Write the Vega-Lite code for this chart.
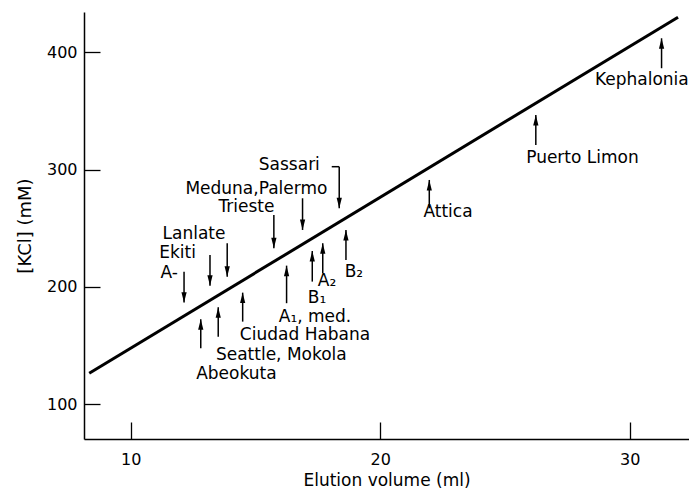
{
  "$schema": "https://vega.github.io/schema/vega-lite/v6.json",
  "width": 605,
  "height": 427,
  "autosize": "none",
  "padding": {"left": 84, "top": 12, "right": 0, "bottom": 52},
  "background": "white",
  "config": {
    "view": {"stroke": null},
    "font": "DejaVu Sans",
    "axis": {
      "grid": false,
      "domainColor": "black",
      "domainWidth": 1.5,
      "tickColor": "black",
      "tickWidth": 1.3,
      "labelFont": "DejaVu Sans",
      "labelFontSize": 16,
      "labelColor": "black",
      "titleFont": "DejaVu Sans",
      "titleFontSize": 18,
      "titleFontWeight": "normal",
      "titleColor": "black"
    }
  },
  "data": {
    "values": [
      {"kind": "line", "x": 8.34, "y": 126.4},
      {"kind": "line", "x": 31.94, "y": 429.8},
      {"kind": "arrow", "name": "A-", "x": 12.14, "y": 186.6, "y2": 213.0, "dir": "down"},
      {"kind": "arrow", "name": "Ekiti", "x": 13.18, "y": 201.0, "y2": 227.2, "dir": "down"},
      {"kind": "arrow", "name": "Lanlate", "x": 13.87, "y": 208.7, "y2": 237.2, "dir": "down"},
      {"kind": "arrow", "name": "Trieste", "x": 15.74, "y": 232.9, "y2": 261.3, "dir": "down"},
      {"kind": "arrow", "name": "Meduna,Palermo", "x": 16.89, "y": 248.5, "y2": 275.5, "dir": "down"},
      {"kind": "arrow", "name": "Sassari", "x": 18.36, "y": 267.0, "y2": 302.4, "dir": "down"},
      {"kind": "arrow", "name": "Abeokuta", "x": 12.81, "y": 172.4, "y2": 147.7, "dir": "up"},
      {"kind": "arrow", "name": "Seattle, Mokola", "x": 13.51, "y": 182.6, "y2": 157.6, "dir": "up"},
      {"kind": "arrow", "name": "Ciudad Habana", "x": 14.49, "y": 195.1, "y2": 170.4, "dir": "up"},
      {"kind": "arrow", "name": "A1, med.", "x": 16.25, "y": 218.1, "y2": 186.1, "dir": "up"},
      {"kind": "arrow", "name": "B1", "x": 17.28, "y": 230.6, "y2": 204.5, "dir": "up"},
      {"kind": "arrow", "name": "A2", "x": 17.70, "y": 237.2, "y2": 211.6, "dir": "up"},
      {"kind": "arrow", "name": "B2", "x": 18.63, "y": 248.5, "y2": 222.9, "dir": "up"},
      {"kind": "arrow", "name": "Attica", "x": 21.97, "y": 291.1, "y2": 267.0, "dir": "up"},
      {"kind": "arrow", "name": "Puerto Limon", "x": 26.24, "y": 346.5, "y2": 320.9, "dir": "up"},
      {"kind": "arrow", "name": "Kephalonia", "x": 31.28, "y": 411.8, "y2": 386.3, "dir": "up"},
      {"kind": "bracket", "x": 18.06, "x2": 18.36, "y": 302.4},
      {"kind": "label", "text": "Sassari", "x": 16.36, "y": 303.9},
      {"kind": "label", "text": "Meduna,Palermo", "x": 15.04, "y": 283.4},
      {"kind": "label", "text": "Trieste", "x": 14.64, "y": 268.1},
      {"kind": "label", "text": "Lanlate", "x": 12.54, "y": 245.1},
      {"kind": "label", "text": "Ekiti", "x": 11.88, "y": 228.9},
      {"kind": "label", "text": "A-", "x": 11.54, "y": 211.9},
      {"kind": "label", "text": "A₁, med.", "x": 17.39, "y": 174.6},
      {"kind": "label", "text": "B₁", "x": 17.47, "y": 190.8},
      {"kind": "label", "text": "A₂", "x": 17.87, "y": 205.2},
      {"kind": "label", "text": "B₂", "x": 18.95, "y": 212.7},
      {"kind": "label", "text": "Ciudad Habana", "x": 16.99, "y": 159.0},
      {"kind": "label", "text": "Seattle, Mokola", "x": 16.04, "y": 142.0},
      {"kind": "label", "text": "Abeokuta", "x": 14.24, "y": 125.8},
      {"kind": "label", "text": "Kephalonia", "x": 30.49, "y": 376.3},
      {"kind": "label", "text": "Puerto Limon", "x": 28.11, "y": 309.9},
      {"kind": "label", "text": "Attica", "x": 22.72, "y": 263.8}
    ]
  },
  "encoding": {
    "x": {"field": "x", "type": "quantitative", "title": "Elution volume (ml)",
          "scale": {"domain": [8.13, 32.38], "nice": false, "zero": false},
          "axis": {"values": [10, 20, 30], "tickSize": -17, "labelPadding": 29, "titlePadding": 5, "titleFontSize": 17}},
    "y": {"field": "y", "type": "quantitative", "title": "[KCl] (mM)",
          "scale": {"domain": [70.4, 434.2], "nice": false, "zero": false},
          "axis": {"values": [100, 200, 300, 400], "tickSize": -16, "labelPadding": 23, "titlePadding": 12}}
  },
  "layer": [
    {
      "transform": [{"filter": "datum.kind === 'line'"}],
      "mark": {"type": "line", "color": "black", "strokeWidth": 3}
    },
    {
      "transform": [{"filter": "datum.kind === 'arrow'"}],
      "mark": {"type": "rule", "color": "black", "strokeWidth": 1.5},
      "encoding": {"y2": {"field": "y2"}}
    },
    {
      "transform": [{"filter": "datum.kind === 'arrow'"}],
      "mark": {"type": "point", "filled": true, "size": 110, "color": "black", "opacity": 1, "strokeWidth": 0},
      "encoding": {
        "shape": {"field": "dir", "type": "nominal", "legend": null,
                  "scale": {"domain": ["down", "up"], "range": ["M-0.5,-2L0.5,-2L0,0Z", "M-0.5,2L0.5,2L0,0Z"]}}
      }
    },
    {
      "transform": [{"filter": "datum.kind === 'bracket'"}],
      "mark": {"type": "rule", "color": "black", "strokeWidth": 1.5},
      "encoding": {"x2": {"field": "x2"}}
    },
    {
      "transform": [{"filter": "datum.kind === 'label'"}],
      "mark": {"type": "text", "font": "DejaVu Sans", "fontSize": 17, "color": "black", "align": "center", "baseline": "middle"},
      "encoding": {"text": {"field": "text"}}
    }
  ]
}
